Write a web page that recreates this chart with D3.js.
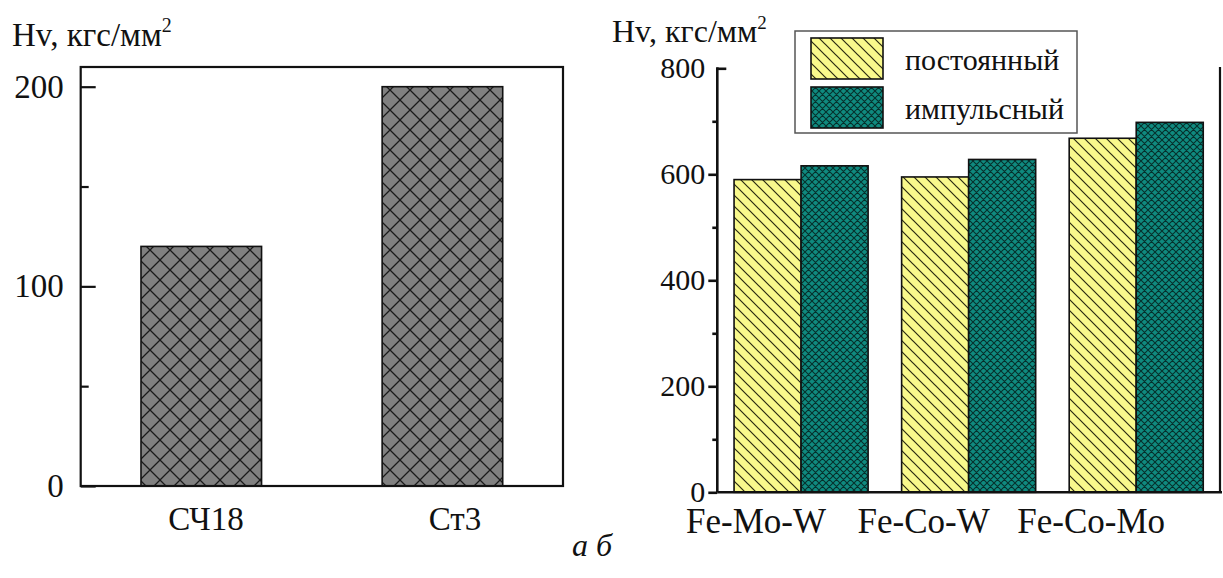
<!DOCTYPE html>
<html>
<head>
<meta charset="utf-8">
<script src="https://cdn.jsdelivr.net/npm/d3@7"></script>
<style>
  html, body { margin: 0; padding: 0; background: #fff; }
  svg { display: block; }
  text { font-family: "Liberation Serif", "Times New Roman", serif; fill: #111; }
</style>
</head>
<body>
<svg id="chart" width="1223" height="578"></svg>
<script>
// Panel (а): hardness of the base materials
const leftCategories = ["СЧ18", "Ст3"];
const leftValues = [120, 200];
const leftMajorTicks = [0, 100, 200];
const leftMinorTicks = [50, 150];

// Panel (б): hardness of the coatings for two current modes
const rightCategories = ["Fe-Mo-W", "Fe-Co-W", "Fe-Co-Mo"];
const seriesNames = ["постоянный", "импульсный"];
const constantValues = [590, 595, 668];
const pulseValues = [616, 628, 698];
const rightMajorTicks = [0, 200, 400, 600, 800];
const rightMinorTicks = [100, 300, 500, 700];

const yLabel = "Hv, кгс/мм";

const svg = d3.select("#chart");
const defs = svg.append("defs");

// Hatch patterns
function hatch(id, size, fill, stroke, width, cross) {
  const p = defs.append("pattern")
    .attr("id", id).attr("patternUnits", "userSpaceOnUse")
    .attr("width", size).attr("height", size);
  p.append("rect").attr("width", size).attr("height", size).attr("fill", fill);
  const s = size;
  let d = `M0,0L${s},${s}M${-s/2},${s/2}L${s/2},${s*1.5}M${s/2},${-s/2}L${s*1.5},${s/2}`;
  if (cross) d += `M0,${s}L${s},0M${-s/2},${s/2}L${s/2},${-s/2}M${s/2},${s*1.5}L${s*1.5},${s/2}`;
  p.append("path").attr("d", d).attr("stroke", stroke).attr("stroke-width", width).attr("fill", "none");
}
hatch("grayCross", 20, "#808080", "#1a1a1a", 1.3, true);
hatch("yellowDiag", 11, "#f9f98c", "#2a2a10", 1.2, false);
hatch("tealCross", 7, "#0f8a7f", "#05302c", 1.1, true);

// ---------- Panel (а) ----------
const L = { x0: 80.7, x1: 563, yTop: 67, yBottom: 486 };
const xL = d3.scaleBand().domain(leftCategories).range([L.x0, L.x1]).paddingInner(0.5).paddingOuter(0.25);
const yL = d3.scaleLinear().domain([0, 200]).range([L.yBottom, 86.7]);
const gL = svg.append("g");

gL.selectAll("rect.bar").data(leftCategories).join("rect")
  .attr("class", "bar")
  .attr("x", d => xL(d))
  .attr("width", xL.bandwidth())
  .attr("y", (d, i) => yL(leftValues[i]))
  .attr("height", (d, i) => yL(0) - yL(leftValues[i]))
  .attr("fill", "url(#grayCross)")
  .attr("stroke", "#111").attr("stroke-width", 1.6);

gL.append("rect")
  .attr("x", L.x0).attr("y", L.yTop)
  .attr("width", L.x1 - L.x0).attr("height", L.yBottom - L.yTop)
  .attr("fill", "none").attr("stroke", "#111").attr("stroke-width", 2.2);

const axL = gL.append("g").attr("transform", `translate(${L.x0},0)`)
  .call(d3.axisLeft(yL).tickValues(leftMajorTicks).tickSize(-15).tickPadding(17));
axL.select(".domain").remove();
axL.selectAll(".tick line").attr("stroke", "#111").attr("stroke-width", 2.2);
axL.selectAll(".tick text").attr("font-size", 33).attr("font-family", "Liberation Serif").attr("fill", "#111");
gL.append("g").attr("transform", `translate(${L.x0},0)`)
  .call(d3.axisLeft(yL).tickValues(leftMinorTicks).tickSize(-8).tickFormat(""))
  .call(g => g.select(".domain").remove())
  .selectAll(".tick line").attr("stroke", "#111").attr("stroke-width", 2.2);

const xLabL = d3.scalePoint().domain(leftCategories).range([206, 455]);
gL.selectAll("text.cat").data(leftCategories).join("text")
  .attr("class", "cat")
  .attr("x", d => xLabL(d)).attr("y", 530)
  .attr("text-anchor", "middle").attr("font-size", 33)
  .text(d => d);

const tL = gL.append("text").attr("x", 12).attr("y", 46).attr("font-size", 33);
tL.append("tspan").text(yLabel);
tL.append("tspan").attr("font-size", 20).attr("dy", -14).text("2");

// ---------- Panel (б) ----------
const R = { x0: 717.3, x1: 1220, yTop: 67, yBottom: 492.3 };
const xR = d3.scaleBand().domain(rightCategories).range([R.x0, R.x1]).paddingInner(0.2).paddingOuter(0.1);
const xS = d3.scaleBand().domain(seriesNames).range([0, xR.bandwidth()]);
const yR = d3.scaleLinear().domain([0, 800]).range([R.yBottom, 68.3]);
const gR = svg.append("g");

const seriesValues = [constantValues, pulseValues];
const seriesFills = ["url(#yellowDiag)", "url(#tealCross)"];

seriesNames.forEach((s, si) => {
  gR.selectAll(`rect.s${si}`).data(rightCategories).join("rect")
    .attr("class", `s${si}`)
    .attr("x", d => xR(d) + xS(s))
    .attr("width", xS.bandwidth())
    .attr("y", (d, i) => yR(seriesValues[si][i]))
    .attr("height", (d, i) => yR(0) - yR(seriesValues[si][i]))
    .attr("fill", seriesFills[si])
    .attr("stroke", "#111").attr("stroke-width", 1.6);
});

// axes lines
gR.append("line").attr("x1", R.x0).attr("x2", R.x0).attr("y1", yR(800) - 1).attr("y2", R.yBottom)
  .attr("stroke", "#111").attr("stroke-width", 2.6);
gR.append("line").attr("x1", R.x0).attr("x2", R.x1 + 2).attr("y1", R.yBottom).attr("y2", R.yBottom)
  .attr("stroke", "#111").attr("stroke-width", 2.6);
gR.append("line").attr("x1", R.x1).attr("x2", R.x1).attr("y1", R.yTop).attr("y2", R.yBottom)
  .attr("stroke", "#111").attr("stroke-width", 2.2);

const axR = gR.append("g").attr("transform", `translate(${R.x0},0)`)
  .call(d3.axisLeft(yR).tickValues(rightMajorTicks).tickSize(9).tickPadding(3));
axR.select(".domain").remove();
axR.selectAll(".tick line").attr("stroke", "#111").attr("stroke-width", 2.6)
  .attr("x2", d => d === 800 ? 9 : -9);
axR.selectAll(".tick text").attr("font-size", 30).attr("font-family", "Liberation Serif").attr("fill", "#111")
  .attr("x", -12);
gR.append("g").attr("transform", `translate(${R.x0},0)`)
  .call(d3.axisLeft(yR).tickValues(rightMinorTicks).tickSize(5).tickFormat(""))
  .call(g => g.select(".domain").remove())
  .selectAll(".tick line").attr("stroke", "#111").attr("stroke-width", 2.6);

// category labels sit left of their bar groups
gR.selectAll("text.cat").data(rightCategories).join("text")
  .attr("class", "cat")
  .attr("x", d => xR(d) + xR.bandwidth() / 2 - 45).attr("y", 533)
  .attr("text-anchor", "middle").attr("font-size", 35)
  .text(d => d);

const tR = gR.append("text").attr("x", 612).attr("y", 42).attr("font-size", 32);
tR.append("tspan").text(yLabel);
tR.append("tspan").attr("font-size", 19).attr("dy", -13).text("2");

// legend
const lg = gR.append("g");
lg.append("rect").attr("x", 795).attr("y", 31).attr("width", 282).attr("height", 102)
  .attr("fill", "#fff").attr("stroke", "#555").attr("stroke-width", 1.5);
seriesNames.forEach((s, si) => {
  const yy = 38 + si * 49;
  lg.append("rect").attr("x", 811).attr("y", yy).attr("width", 72).attr("height", 41)
    .attr("fill", seriesFills[si]).attr("stroke", "#111").attr("stroke-width", 1.6);
  lg.append("text").attr("x", 905).attr("y", yy + 32).attr("font-size", 30).text(s);
});

// panel captions
svg.append("text").attr("x", 572).attr("y", 556).attr("font-size", 32)
  .attr("font-style", "italic").text("а б");
</script>
</body>
</html>
